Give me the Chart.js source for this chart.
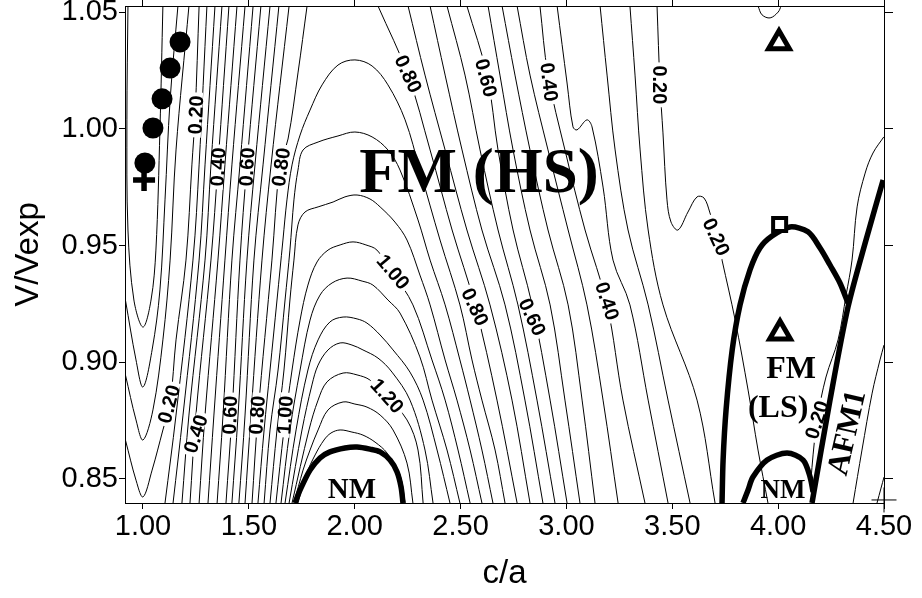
<!DOCTYPE html>
<html>
<head>
<meta charset="utf-8">
<title>c/a vs V/Vexp</title>
<script src="https://cdn.jsdelivr.net/npm/chart.js@4.4.1/dist/chart.umd.min.js"></script>
<style>
  html, body { margin: 0; padding: 0; background: #fff; }
  #wrap { width: 922px; height: 598px; }
</style>
</head>
<body>
<div id="wrap"><canvas id="chart" width="922" height="598"></canvas></div>
<script>
// ---- axes ----
var xTicks = [1.00, 1.50, 2.00, 2.50, 3.00, 3.50, 4.00, 4.50];
var yTicks = [0.85, 0.90, 0.95, 1.00, 1.05];
var xRange = [0.915, 4.50];
var yRange = [0.8397, 1.0527];

// ---- contour lines ----
// minima near c/a = 1 (0.05 .. 0.20)
var minLine005 = [[0.929,1.0527],[0.924,1.0039],[0.929,0.9567],[0.957,0.9267],[1.000,0.9151],[1.038,0.9267],[1.061,0.9481],[1.080,0.9996],[1.094,1.0527]];
var minLine010 = [[0.917,0.9267],[0.967,0.9010],[1.000,0.8894],[1.043,0.9053],[1.080,0.9310],[1.104,0.9696],[1.128,1.0124],[1.165,1.0527]];
var minLine015 = [[0.917,0.8946],[0.967,0.8753],[1.000,0.8667],[1.047,0.8796],[1.094,0.9096],[1.128,0.9438],[1.156,0.9910],[1.217,1.0527]];
var minLine020 = [[0.917,0.8667],[0.967,0.8495],[1.000,0.8423],[1.043,0.8538],[1.094,0.8710],[1.128,0.8826],[1.156,0.9096],[1.203,0.9438],[1.231,0.9846],[1.246,1.0060],[1.265,1.0527]];

// steep band left of the dome: x at each row of bandRowsY
var bandRowsY = [0.8397, 0.8774, 0.9438, 0.9846, 1.0527];
var band025 = [1.104, 1.156, 1.236, 1.265, 1.302];
var band030 = [1.142, 1.189, 1.265, 1.293, 1.340];
var band035 = [1.184, 1.217, 1.293, 1.321, 1.373];
var band040 = [1.222, 1.250, 1.321, 1.354, 1.406];
var band045 = [1.265, 1.293, 1.354, 1.387, 1.444];
var band050 = [1.307, 1.335, 1.387, 1.420, 1.482];
var band055 = [1.350, 1.378, 1.420, 1.458, 1.520];
var band060 = [1.392, 1.420, 1.458, 1.491, 1.557];
var band065 = [1.420, 1.449, 1.491, 1.529, 1.600];
var band070 = [1.453, 1.482, 1.524, 1.567, 1.642];
var band075 = [1.482, 1.510, 1.562, 1.605, 1.690];
var band080 = [[1.515,0.8397],[1.543,0.8774],[1.609,0.9438],[1.647,0.9846],[1.685,0.9957],[1.732,1.0240],[1.775,1.0527]];

// closed domes round c/a = 2
var dome085 = [[1.543,0.8397],[1.572,0.8710],[1.600,0.8967],[1.633,0.9267],[1.661,0.9524],[1.680,0.9696],[1.704,0.9846],[1.742,0.9974],[1.789,1.0081],[1.846,1.0189],[1.921,1.0274],[2.001,1.0296],[2.082,1.0270],[2.157,1.0189],[2.238,1.0039],[2.308,0.9824],[2.403,0.9524],[2.497,0.9246],[2.554,0.9010],[2.601,0.8838],[2.663,0.8624],[2.710,0.8397]];
var dome090 = [[1.572,0.8397],[1.600,0.8710],[1.638,0.8967],[1.671,0.9267],[1.694,0.9481],[1.713,0.9696],[1.732,0.9824],[1.756,0.9910],[1.827,0.9944],[1.921,0.9970],[2.001,0.9987],[2.082,0.9966],[2.157,0.9910],[2.214,0.9824],[2.299,0.9610],[2.356,0.9438],[2.427,0.9246],[2.497,0.9010],[2.545,0.8838],[2.601,0.8624],[2.653,0.8397]];
var dome095 = [[1.600,0.8397],[1.633,0.8710],[1.666,0.8967],[1.694,0.9267],[1.713,0.9438],[1.732,0.9589],[1.765,0.9644],[1.827,0.9666],[1.898,0.9687],[1.954,0.9709],[2.011,0.9717],[2.072,0.9700],[2.120,0.9666],[2.190,0.9601],[2.247,0.9524],[2.308,0.9374],[2.356,0.9246],[2.427,0.9010],[2.483,0.8838],[2.545,0.8624],[2.601,0.8397]];
var dome100 = [[1.628,0.8397],[1.666,0.8710],[1.704,0.8967],[1.742,0.9181],[1.779,0.9331],[1.822,0.9430],[1.874,0.9481],[1.931,0.9503],[1.992,0.9516],[2.053,0.9503],[2.105,0.9481],[2.181,0.9383],[2.275,0.9246],[2.365,0.9010],[2.427,0.8838],[2.488,0.8624],[2.545,0.8397]];
var dome105 = [[1.652,0.8397],[1.694,0.8710],[1.742,0.8967],[1.789,0.9181],[1.836,0.9288],[1.893,0.9340],[1.964,0.9361],[2.035,0.9348],[2.086,0.9331],[2.157,0.9267],[2.214,0.9211],[2.308,0.9023],[2.365,0.8838],[2.436,0.8624],[2.497,0.8397]];
var dome110 = [[1.671,0.8397],[1.723,0.8710],[1.779,0.8967],[1.827,0.9096],[1.883,0.9173],[1.945,0.9194],[2.011,0.9186],[2.058,0.9168],[2.120,0.9117],[2.181,0.9053],[2.261,0.8958],[2.323,0.8838],[2.389,0.8624],[2.450,0.8397]];
var dome115 = [[1.690,0.8397],[1.751,0.8710],[1.798,0.8903],[1.827,0.8988],[1.874,0.9053],[1.931,0.9083],[1.987,0.9074],[2.039,0.9053],[2.110,0.9018],[2.176,0.8958],[2.261,0.8838],[2.332,0.8624],[2.370,0.8397]];
var dome120 = [[1.704,0.8397],[1.784,0.8710],[1.827,0.8838],[1.869,0.8916],[1.945,0.8954],[2.011,0.8946],[2.072,0.8924],[2.153,0.8851],[2.247,0.8753],[2.299,0.8624],[2.323,0.8397]];
var dome125 = [[1.713,0.8397],[1.756,0.8538],[1.789,0.8624],[1.827,0.8710],[1.874,0.8796],[1.945,0.8830],[2.001,0.8821],[2.058,0.8808],[2.120,0.8774],[2.181,0.8710],[2.247,0.8568],[2.275,0.8397]];
var dome130 = [[1.732,0.8397],[1.770,0.8517],[1.813,0.8603],[1.855,0.8667],[1.888,0.8697],[1.931,0.8710],[1.987,0.8701],[2.039,0.8688],[2.096,0.8658],[2.153,0.8611],[2.214,0.8517],[2.238,0.8397]];

// falling lines right of the dome: x at each row of slopeRowsY
var slopeRowsY = [1.0527, 1.0231, 0.9910, 0.9567, 0.9246, 0.8838, 0.8397];
var slope080 = [2.110, 2.252, 2.356, 2.460, 2.568, 2.672, 2.767];
var slope075 = [2.252, 2.332, 2.427, 2.530, 2.639, 2.743, 2.828];
var slope070 = [2.356, 2.427, 2.507, 2.601, 2.710, 2.804, 2.889];
var slope065 = [2.436, 2.521, 2.592, 2.677, 2.771, 2.861, 2.946];
var slope060 = [2.530, 2.625, 2.677, 2.748, 2.838, 2.923, 3.003];
var slope055 = [2.630, 2.686, 2.748, 2.828, 2.923, 2.993, 3.064];
var slope050 = [2.696, 2.757, 2.828, 2.913, 3.008, 3.074, 3.135];
var slope045 = [2.767, 2.828, 2.913, 3.008, 3.097, 3.173, 3.244];
var slope040 = [2.875, 2.913, 2.993, 3.088, 3.192, 3.267, 3.371];
var slope030 = [3.159, 3.192, 3.230, 3.291, 3.386, 3.480, 3.584];
var slope025 = [3.300, 3.324, 3.348, 3.386, 3.456, 3.617, 3.702];
var slope035 = [[2.956,1.0527],[3.003,1.0197],[3.031,1.0009],[3.050,0.9996],[3.097,1.0039],[3.121,1.0009],[3.173,0.9751],[3.220,0.9438],[3.300,0.9246],[3.386,0.8838],[3.480,0.8397]];
var slope020 = [[3.428,1.0527],[3.442,1.0189],[3.456,0.9983],[3.475,0.9696],[3.494,0.9601],[3.527,0.9567],[3.574,0.9644],[3.617,0.9709],[3.650,0.9704],[3.678,0.9640],[3.711,0.9537],[3.735,0.9438],[3.797,0.9181],[3.858,0.8881],[3.905,0.8624],[3.952,0.8397]];

// plateau at high c/a
var edge020 = [[4.499,0.9966],[4.448,0.9897],[4.411,0.9811],[4.373,0.9666],[4.349,0.9438],[4.321,0.9288],[4.283,0.9096],[4.226,0.8937],[4.184,0.8753],[4.165,0.8603],[4.155,0.8495]];
var edgeA = [[4.354,0.8397],[4.396,0.8624],[4.444,0.8868],[4.481,0.9010],[4.500,0.9074]];
var edgeB = [[4.467,0.8397],[4.486,0.8461],[4.500,0.8508]];
var topBump = [[3.905,1.0527],[3.924,1.0489],[3.962,1.0476],[4.000,1.0501],[4.014,1.0527]];

// phase boundaries (thick)
var nmLeft = [[1.718,0.8397],[1.742,0.8453],[1.789,0.8538],[1.836,0.8590],[1.883,0.8616],[1.954,0.8633],[2.011,0.8637],[2.072,0.8628],[2.120,0.8616],[2.167,0.8581],[2.200,0.8530],[2.219,0.8465],[2.228,0.8397]];
var fmLsBoundary = [[3.735,0.8397],[3.740,0.8581],[3.754,0.8796],[3.783,0.9053],[3.820,0.9246],[3.867,0.9396],[3.914,0.9490],[3.971,0.9541],[4.056,0.9580],[4.141,0.9559],[4.198,0.9490],[4.245,0.9417],[4.292,0.9340],[4.330,0.9254]];
var afm1Boundary = [[4.160,0.8397],[4.245,0.8838],[4.330,0.9237],[4.415,0.9524],[4.496,0.9781]];
var nmRight = [[3.834,0.8397],[3.858,0.8453],[3.881,0.8508],[3.948,0.8581],[4.042,0.8611],[4.118,0.8581],[4.151,0.8508],[4.165,0.8444]];

// symbols
var blackDots = [[1.175,1.0373],[1.128,1.0261],[1.090,1.0129],[1.047,1.0004],[1.009,0.9854]];
var crossMark = [[1.005,0.9781]];
var openTriangles = [[4.004,1.0369],[4.009,0.9126]];
var openSquare = [[4.007,0.9591]];
var thinPlus = [[4.500,0.8410]];

// contour labels: text, c/a, V/Vexp, angle along the line
var contourLabels = [
  ['0.20', 1.250, 1.0060, -87], ['0.40', 1.354, 0.9837, -87], ['0.60', 1.491, 0.9837, -87], ['0.80', 1.652, 0.9837, -82],
  ['0.20', 1.123, 0.8821, -75], ['0.40', 1.250, 0.8693, -72], ['0.60', 1.411, 0.8774, -88], ['0.80', 1.539, 0.8774, -86],
  ['1.00', 1.671, 0.8774, -86],
  ['0.80', 2.252, 1.0236, 65], ['0.60', 2.620, 1.0219, 75], ['0.40', 2.918, 1.0201, 83], ['0.20', 3.442, 1.0189, 90],
  ['1.00', 2.181, 0.9387, 50], ['1.20', 2.153, 0.8856, 48],
  ['0.80', 2.568, 0.9237, 65], ['0.60', 2.838, 0.9194, 65], ['0.40', 3.192, 0.9263, 72],
  ['0.20', 3.707, 0.9537, 65], ['0.20', 4.184, 0.8753, -72]
];
// phase names: text, c/a, V/Vexp, kind
var regionLabels = [
  ['FM (HS)', 2.587, 0.9730, 'big'],
  ['FM', 4.061, 0.8933, 'mid'],
  ['(LS)', 4.000, 0.8766, 'mid'],
  ['NM', 1.987, 0.8418, 'nm'],
  ['NM', 4.023, 0.8418, 'nmSmall'],
  ['AFM1', 4.330, 0.8697, 'afm']
];

var SANS = '"Liberation Sans", Arial, Helvetica, sans-serif';
var SERIF = '"Liberation Serif", "Times New Roman", serif';
var regionFont = { big: 63, mid: 32, nm: 29, nmSmall: 27, afm: 31 };

function rows(ys, xs) {
  return xs.map(function (x, i) { return [x, ys[i]]; });
}

function thinLine(data) {
  return { data: data, showLine: true, borderColor: '#000', borderWidth: 1, pointRadius: 0,
           pointHoverRadius: 0, pointHitRadius: 0, tension: 0.35, clip: 0 };
}
function thickLine(data) {
  var d = thinLine(data);
  d.borderWidth = 5.5;
  d.tension = 0.3;
  return d;
}

var markers = [
  { data: blackDots, pointStyle: 'circle', pointRadius: 10.5, backgroundColor: '#000', borderColor: '#000', pointBorderWidth: 0, clip: false },
  { data: crossMark, pointStyle: 'cross', pointRadius: 11, backgroundColor: '#000', borderColor: '#000', pointBorderWidth: 5.5, clip: false },
  { data: openTriangles, pointStyle: 'triangle', pointRadius: 12, backgroundColor: '#fff', borderColor: '#000', pointBorderWidth: 5, clip: false },
  { data: openSquare, pointStyle: 'rect', pointRadius: 9.2, backgroundColor: '#fff', borderColor: '#000', pointBorderWidth: 4, clip: false },
  { data: thinPlus, pointStyle: 'cross', pointRadius: 12.5, backgroundColor: '#000', borderColor: '#000', pointBorderWidth: 1, clip: false }
];
var thick = [nmLeft, fmLsBoundary, afm1Boundary, nmRight].map(thickLine);
var thin = [
  minLine005, minLine010, minLine015, minLine020,
  rows(bandRowsY, band025), rows(bandRowsY, band030), rows(bandRowsY, band035), rows(bandRowsY, band040),
  rows(bandRowsY, band045), rows(bandRowsY, band050), rows(bandRowsY, band055), rows(bandRowsY, band060),
  rows(bandRowsY, band065), rows(bandRowsY, band070), rows(bandRowsY, band075), band080,
  dome085, dome090, dome095, dome100, dome105, dome110, dome115, dome120, dome125, dome130,
  rows(slopeRowsY, slope080), rows(slopeRowsY, slope075), rows(slopeRowsY, slope070), rows(slopeRowsY, slope065),
  rows(slopeRowsY, slope060), rows(slopeRowsY, slope055), rows(slopeRowsY, slope050), rows(slopeRowsY, slope045),
  rows(slopeRowsY, slope040), slope035, rows(slopeRowsY, slope030), rows(slopeRowsY, slope025), slope020,
  edge020, edgeA, edgeB, topBump
].map(thinLine);

var datasets = markers.concat(thick, thin);
// datasets are painted from last to first: the labels go in once the thin lines are done
var labelSlot = markers.length + thick.length - 1;

function drawContourLabels(chart) {
  var ctx = chart.ctx, xs = chart.scales.x, ys = chart.scales.y;
  ctx.save();
  ctx.font = 'bold 20px ' + SANS;
  ctx.textAlign = 'center';
  ctx.textBaseline = 'middle';
  contourLabels.forEach(function (l) {
    var w = ctx.measureText(l[0]).width;
    ctx.save();
    ctx.translate(xs.getPixelForValue(l[1]), ys.getPixelForValue(l[2]));
    ctx.rotate(l[3] * Math.PI / 180);
    ctx.fillStyle = '#fff';
    ctx.fillRect(-w / 2 - 3, -6, w + 6, 12);
    ctx.fillStyle = '#000';
    ctx.fillText(l[0], 0, 1);
    ctx.restore();
  });
  ctx.restore();
}

function drawRegionLabels(chart) {
  var ctx = chart.ctx, xs = chart.scales.x, ys = chart.scales.y;
  ctx.save();
  ctx.fillStyle = '#000';
  ctx.textAlign = 'center';
  regionLabels.forEach(function (l) {
    ctx.save();
    ctx.font = 'bold ' + regionFont[l[3]] + 'px ' + SERIF;
    ctx.translate(xs.getPixelForValue(l[1]), ys.getPixelForValue(l[2]));
    if (l[3] === 'afm') {
      ctx.rotate(-77 * Math.PI / 180);
      ctx.textBaseline = 'middle';
    } else {
      ctx.textBaseline = 'alphabetic';
    }
    ctx.fillText(l[0], 0, 0);
    ctx.restore();
  });
  ctx.restore();
}

var textPlugin = {
  id: 'contourText',
  beforeDatasetDraw: function (chart, args) {
    if (args.index === labelSlot) drawContourLabels(chart);
  },
  afterDatasetsDraw: function (chart) {
    drawRegionLabels(chart);
  }
};

function fixedTicks(values) {
  return function (scale) {
    scale.ticks = values.map(function (v) { return { value: v }; });
  };
}
function fmt(v) { return Number(v).toFixed(2); }
function noPadding(s) {
  s.paddingTop = 0; s.paddingBottom = 0; s.paddingLeft = 0; s.paddingRight = 0;
}

var tickFont = { family: SANS, size: 29 };
var titleFont = { family: SANS, size: 33 };
var axisGrid = { drawOnChartArea: false, drawTicks: true, tickLength: 6, color: '#000', lineWidth: 1 };
var axisBorder = { display: true, color: '#000', width: 1 };

new Chart(document.getElementById('chart'), {
  type: 'scatter',
  data: { datasets: datasets },
  plugins: [textPlugin],
  options: {
    responsive: false,
    animation: false,
    devicePixelRatio: 1,
    events: [],
    // no automatic room for the big markers: the plot box is fixed
    layout: { autoPadding: false, padding: 0 },
    plugins: { legend: { display: false }, tooltip: { enabled: false } },
    scales: {
      x: {
        type: 'linear', position: 'bottom', min: xRange[0], max: xRange[1],
        afterBuildTicks: fixedTicks(xTicks),
        afterFit: function (s) { s.height = 95; noPadding(s); },
        ticks: { callback: fmt, font: tickFont, color: '#000', padding: 1, maxRotation: 0, autoSkip: false },
        grid: axisGrid, border: axisBorder,
        title: { display: true, text: 'c/a', font: titleFont, color: '#000', padding: { top: 0, bottom: 4 } }
      },
      x2: {
        type: 'linear', position: 'top', min: xRange[0], max: xRange[1],
        afterBuildTicks: fixedTicks(xTicks),
        afterFit: function (s) { s.height = 6; noPadding(s); },
        ticks: { display: false },
        grid: axisGrid, border: axisBorder
      },
      y: {
        type: 'linear', position: 'left', min: yRange[0], max: yRange[1],
        afterBuildTicks: fixedTicks(yTicks),
        afterFit: function (s) { s.width = 125; noPadding(s); },
        ticks: { callback: fmt, font: tickFont, color: '#000', padding: 1, autoSkip: false },
        grid: axisGrid, border: axisBorder,
        title: { display: true, text: 'V/Vexp', font: titleFont, color: '#000', padding: { top: 9, bottom: 0 } }
      },
      y2: {
        type: 'linear', position: 'right', min: yRange[0], max: yRange[1],
        afterBuildTicks: fixedTicks(yTicks),
        afterFit: function (s) { s.width = 38; noPadding(s); },
        ticks: { display: false },
        grid: { drawOnChartArea: false, drawTicks: true, tickLength: 9, color: '#000', lineWidth: 1 },
        border: axisBorder
      }
    }
  }
});
</script>
</body>
</html>
